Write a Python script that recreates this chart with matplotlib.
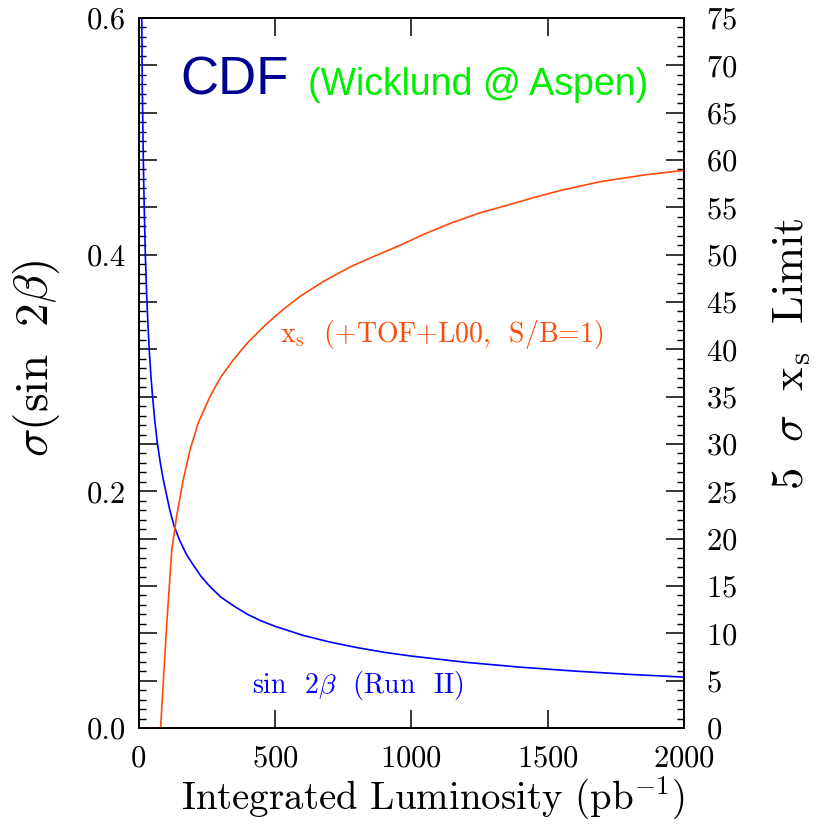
import matplotlib
matplotlib.use('Agg')
import matplotlib.pyplot as plt
from matplotlib.ticker import MultipleLocator, FuncFormatter

plt.rcParams['font.family'] = 'serif'
plt.rcParams['font.serif'] = ['cmr10']
plt.rcParams['mathtext.fontset'] = 'cm'
plt.rcParams['axes.formatter.use_mathtext'] = True

# sin2beta resolution (Run II), left axis
lumi_s2b = [12, 14, 17, 20, 25, 30, 35, 40, 46, 52, 60, 69, 80, 90, 100,
            115, 130, 150, 175, 200, 230, 260, 300, 350, 400, 450, 500, 600,
            700, 800, 900, 1000, 1200, 1400, 1600, 1800, 2000]
sig_s2b = [0.600, 0.540, 0.490, 0.450, 0.400, 0.366, 0.339, 0.317, 0.296,
           0.279, 0.259, 0.241, 0.224, 0.211, 0.200, 0.184, 0.171, 0.159,
           0.147, 0.138, 0.128, 0.120, 0.111, 0.103, 0.096, 0.0905, 0.086,
           0.0785, 0.0727, 0.068, 0.064, 0.0608, 0.0555, 0.0514, 0.0481,
           0.0453, 0.043]

# 5 sigma xs reach, right axis
lumi_xs = [0, 81, 103, 122, 140, 164, 189, 220, 262, 300, 348, 400, 470, 530,
           593, 680, 776, 870, 960, 1050, 1143, 1250, 1350, 1446, 1550, 1692,
           1850, 2000]
reach_xs = [0, 0, 10.7, 18.8, 22.4, 26.2, 29.4, 32.3, 35.0, 37.0, 38.9, 40.7,
            42.7, 44.2, 45.6, 47.2, 48.7, 49.9, 51.0, 52.2, 53.3, 54.4, 55.2,
            56.0, 56.8, 57.7, 58.4, 58.9]

xticks = [0, 500, 1000, 1500, 2000]

fig = plt.figure(figsize=(8.21, 8.24), dpi=100)
ax = fig.add_axes([0.1687, 0.1165, 0.6644, 0.8617])
ax2 = ax.twinx()

ax.plot(lumi_s2b, sig_s2b, color='#0000ff', lw=1.2)
ax2.plot(lumi_xs, reach_xs, color='#ff4a0a', lw=1.2)

ax.set_xlim(0, 2000)
ax.set_ylim(0, 0.6)
ax2.set_ylim(0, 75)

ax.set_xticks(xticks)
ax.yaxis.set_major_locator(MultipleLocator(0.04))
ax.yaxis.set_minor_locator(MultipleLocator(0.008))
ax.yaxis.set_major_formatter(FuncFormatter(
    lambda v, p: '%.1f' % v if abs(v / 0.2 - round(v / 0.2)) < 1e-6 else ''))
ax2.yaxis.set_major_locator(MultipleLocator(5))
ax2.yaxis.set_minor_locator(MultipleLocator(1))

ax.tick_params(axis='x', which='major', direction='in', top=True, length=13,
               width=1.1, labelsize=22, pad=12)
ax.tick_params(axis='y', which='major', direction='in', length=13, width=1.1,
               labelsize=22, pad=9)
ax.tick_params(axis='y', which='minor', direction='in', length=5, width=1.0)
ax2.tick_params(axis='y', which='major', direction='in', length=13, width=1.1,
                labelsize=22, pad=16)
ax2.tick_params(axis='y', which='minor', direction='in', length=5, width=1.0)
for a in (ax, ax2):
    for s in a.spines.values():
        s.set_linewidth(1.3)

ax.set_xlabel(r'Integrated Luminosity (pb$^{-1}$)', fontsize=28)
ax.xaxis.set_label_coords(0.54, -0.066)
ax.set_ylabel(r'$\sigma(\mathrm{sin}\ \ 2\beta)$', fontsize=34)
ax.yaxis.set_label_coords(-0.14, 0.521)
ax2.set_ylabel(r'$5\ \ \sigma\ \ \mathrm{x_s}\ \ \mathrm{Limit}$', fontsize=32)
ax2.yaxis.set_label_coords(1.16, 0.527)

ax.text(152, 0.535, 'CDF', color='#000090', fontsize=38,
        family='Liberation Sans', va='baseline')
ax.text(622, 0.535, '(Wicklund @ Aspen)', color='#00ee00', fontsize=27,
        family='Liberation Sans', va='baseline')
ax.text(519, 0.326, r'$\mathrm{x_s}$  (+TOF+L00,  S/B=1)', color='#ff4a0a',
        fontsize=20, va='baseline')
ax.text(416, 0.0296, r'sin  2$\beta$  (Run  II)', color='#0000ff',
        fontsize=20, va='baseline')

fig.savefig('out.png', dpi=100)
